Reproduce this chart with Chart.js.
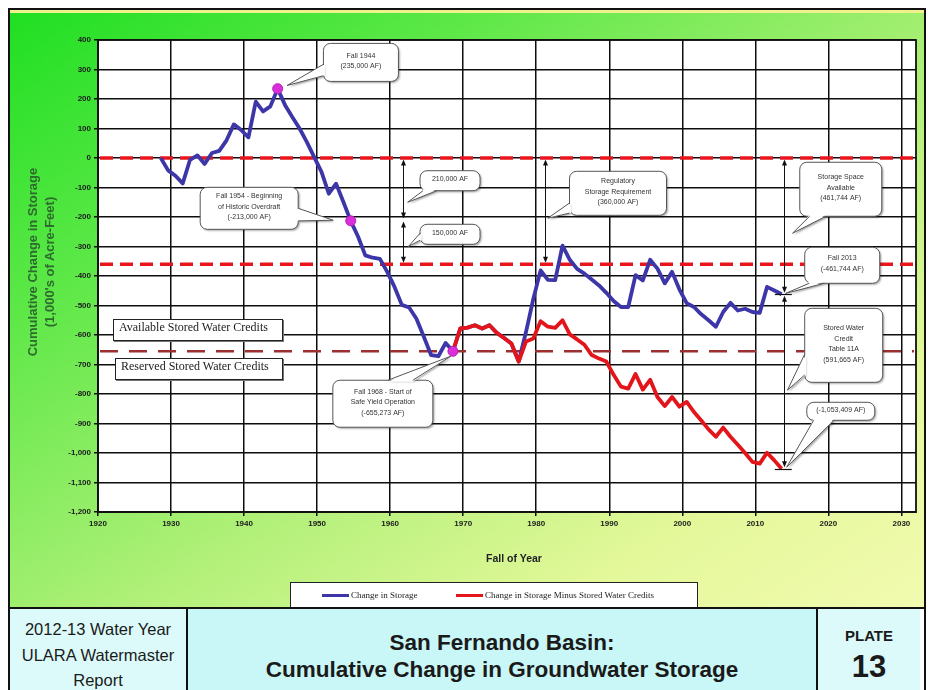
<!DOCTYPE html>
<html lang="en">
<head>
<meta charset="UTF-8">
<title>San Fernando Basin: Cumulative Change in Groundwater Storage</title>
<script src="https://cdn.jsdelivr.net/npm/chart.js"></script>
<style>
  html, body { margin: 0; padding: 0; background: #fff; }
  body { width: 928px; height: 690px; position: relative; overflow: hidden; font-family: Arial, "Liberation Sans", sans-serif; }
  #frame {
    position: absolute; left: 8px; top: 8px; width: 914px; height: 599px;
    border: 2px solid #111; border-bottom: none;
    background: linear-gradient(to bottom right, #1fdf22 0%, #5ee848 26%, #b0f078 56%, #e4f89a 80%, #f2fbb0 100%);
    box-shadow: inset 0 3px 0 #eef28c;
  }
  #chart { position: absolute; left: 0; top: 0; }
  .ytitle {
    position: absolute; width: 280px; height: 16px; line-height: 16px; text-align: center;
    font: bold 13px Arial, sans-serif; color: #2f6a2f; transform: rotate(-90deg);
  }
  #xtitle { position: absolute; left: 414px; top: 551px; width: 200px; text-align: center; font: bold 10.5px Arial, sans-serif; color: #222; line-height: 14px; }
  #legend { position: absolute; left: 290px; top: 582px; width: 406px; height: 24px; border: 1px solid #222; background: #fff; }
  #legend .key { position: absolute; top: 11px; height: 3px; width: 27px; }
  #legend .lbl { position: absolute; top: 6px; font: 9px "Liberation Serif", "Times New Roman", serif; color: #222; line-height: 12px; white-space: nowrap; }
  .credit {
    position: absolute; height: 22px; line-height: 23px; padding-left: 5px; box-sizing: border-box;
    border: 1px solid #222; background: #fff; box-shadow: 1px 1px 0 #777;
    font: 12px "Liberation Serif", "Times New Roman", serif; color: #222; white-space: nowrap;
  }
  #plate { position: absolute; left: 8px; top: 607px; width: 914px; height: 81px; border: 2px solid #111; border-bottom: none; display: flex; }
  #plate .cell { position: relative; height: 81px; }
  #plate .side { background: #dcfafa; }
  #plate .mid { background: #c9f6f6; border-left: 2px solid #111; border-right: 2px solid #111; }
  .report { width: 176px; padding-top: 8px; box-sizing: border-box; text-align: center; font-size: 16.5px; line-height: 25.5px; color: #1a1a1a; }
  .plateTitle { width: 632px; padding-top: 19.5px; box-sizing: border-box; text-align: center; font-weight: bold; font-size: 22.5px; line-height: 27px; color: #1a1a1a; }
  .plateNo { width: 102px; text-align: center; color: #1a1a1a; font-weight: bold; }
  .plateNo .word { position: absolute; left: 0; right: 0; top: 18px; font-size: 15px; line-height: 18px; }
  .plateNo .num { position: absolute; left: 0; right: 0; top: 40px; font-size: 31px; line-height: 36px; }
</style>
</head>
<body>
  <div id="frame"></div>
  <canvas id="chart" width="928" height="690"></canvas>

  <div class="ytitle" style="left:-107px; top:254px;">Cumulative Change in Storage</div>
  <div class="ytitle" style="left:-90px; top:254px;">(1,000's of Acre-Feet)</div>
  <div id="xtitle">Fall of Year</div>

  <div class="credit" style="left:113px; top:319px; width:170px;">Available Stored Water Credits</div>
  <div class="credit" style="left:115px; top:358px; width:168px;">Reserved Stored Water Credits</div>

  <div id="legend">
    <span class="key" style="left:31px; background:#3c36a8"></span>
    <span class="lbl" style="left:60px">Change in Storage</span>
    <span class="key" style="left:165px; background:#e3141a"></span>
    <span class="lbl" style="left:194px">Change in Storage Minus Stored Water Credits</span>
  </div>

  <div id="plate">
    <div class="cell side report">2012-13 Water Year<br>ULARA Watermaster<br>Report</div>
    <div class="cell mid plateTitle">San Fernando Basin:<br>Cumulative Change in Groundwater Storage</div>
    <div class="cell side plateNo"><span class="word">PLATE</span><span class="num">13</span></div>
  </div>

<script>
  // Fall readings, thousands of acre-feet
  const years = [1928, 1929, 1930, 1931, 1932, 1933, 1934, 1935, 1936, 1937,
    1938, 1939, 1940, 1941, 1942, 1943, 1944, 1945, 1946, 1947,
    1948, 1949, 1950, 1951, 1952, 1953, 1954, 1955, 1956, 1957,
    1958, 1959, 1960, 1961, 1962, 1963, 1964, 1965, 1966, 1967,
    1968, 1969, 1970, 1971, 1972, 1973, 1974, 1975, 1976, 1977,
    1978, 1979, 1980, 1981, 1982, 1983, 1984, 1985, 1986, 1987,
    1988, 1989, 1990, 1991, 1992, 1993, 1994, 1995, 1996, 1997,
    1998, 1999, 2000, 2001, 2002, 2003, 2004, 2005, 2006, 2007,
    2008, 2009, 2010, 2011, 2012, 2013];

  const storageChange = [0, -42, -60, -86, -6, 9, -20, 17, 24, 60,
    114, 95, 70, 191, 158, 175, 235, 180, 139, 100,
    54, 3, -47, -121, -87, -149, -213, -266, -330, -338,
    -342, -386, -437, -498, -507, -545, -605, -668, -672, -627,
    -655.273, -578, -575, -567, -578, -567, -593, -610, -629, -690,
    -590, -478, -381, -413, -414, -297, -345, -376, -392, -412,
    -432, -457, -485, -505, -505, -397, -415, -345, -375, -425,
    -386, -445, -492, -505, -530, -550, -572, -522, -491, -517,
    -511, -522, -525, -437, -449, -461.744];

  // Change in storage minus stored water credits, from the start of safe yield operation
  const netFromYear = 1968;
  const storageNet = [-655.273, -578, -575, -567, -578, -567, -593, -610, -629, -690,
    -622, -612, -553, -572, -576, -550, -598, -615, -633, -668,
    -680, -690, -735, -775, -782, -732, -785, -752, -810, -841,
    -810, -843, -827, -861, -890, -920, -945, -914, -945, -972,
    -1000, -1030, -1036, -999, -1025, -1053.409];

  const eventYears = [1944, 1954, 1968];

  const decadeTicks = [1920, 1930, 1940, 1950, 1960, 1970, 1980, 1990, 2000, 2010, 2020, 2030];
  const storageTicks = [-1200, -1100, -1000, -900, -800, -700, -600, -500, -400, -300, -200, -100, 0, 100, 200, 300, 400];

  const zeroLevel = 0;
  const regulatoryLevel = -360;
  const overdraftLevel = -210;
  const safeYieldLevel = -655.273;

  const BLUE = '#3c36a8';
  const RED = '#e3141a';

  // readings are taken in the fall, so they sit late in each calendar year
  const fallOffset = 0.6;
  const netYears = years.slice(years.indexOf(netFromYear));
  const toPoints = (ys, vals) => vals.map((v, i) => ({ x: ys[i] + fallOffset, y: v }));
  const eventPoints = eventYears.map(yr => ({ x: yr + fallOffset, y: storageChange[years.indexOf(yr)] }));
  const lastYear = years[years.length - 1];
  const lastStorage = storageChange[storageChange.length - 1];
  const lastNet = storageNet[storageNet.length - 1];

  const levels = [
    { v: zeroLevel, color: '#e8161c', width: 3.5, dash: [13, 7] },
    { v: regulatoryLevel, color: '#e8161c', width: 3.5, dash: [13, 7] },
    { v: safeYieldLevel, color: '#9c2f2f', width: 2.5, dash: [18, 11] }
  ];

  // double headed measuring arrows: [year, from, to]
  const spans = [
    [1961.7, zeroLevel, overdraftLevel],
    [1961.7, overdraftLevel, regulatoryLevel],
    [1981.15, zeroLevel, regulatoryLevel],
    [lastYear + 0.9, zeroLevel, lastStorage],
    [lastYear + 0.9, lastStorage, lastNet]
  ];

  // callout boxes, anchored in year / storage units
  const callouts = [
    { at: [1956.0, 324], w: 75, h: 38, text: ['Fall 1944', '(235,000 AF)'], side: 'left', span: [0.55, 0.85], tip: [1945.9, 246] },
    { at: [1940.7, -170.5], w: 98, h: 42, text: ['Fall 1954 - Beginning', 'of Historic Overdraft', '(-213,000 AF)'], side: 'right', span: [0.5, 0.8], tip: [1952.2, -211] },
    { at: [1968.2, -77], w: 60, h: 20, text: ['210,000 AF'], side: 'bottom', span: [0.05, 0.28], tip: [1962.4, -150] },
    { at: [1968.2, -258.6], w: 60, h: 20, text: ['150,000 AF'], side: 'left', span: [0.45, 0.8], tip: [1962.5, -300] },
    { at: [1991.2, -119.7], w: 97, h: 44, text: ['Regulatory', 'Storage Requirement', '(360,000 AF)'], side: 'left', span: [0.72, 0.95], tip: [1981.6, -204] },
    { at: [2021.7, -106], w: 82, h: 54, text: ['Storage Space', 'Available', '(461,744 AF)'], side: 'bottom', span: [0.12, 0.32], tip: [2015.1, -255] },
    { at: [2021.9, -363.7], w: 75, h: 36, text: ['Fall 2013', '(-461,744 AF)'], side: 'bottom', span: [0.06, 0.26], tip: [2014.15, -459] },
    { at: [2022.1, -635], w: 78, h: 74, text: ['Stored Water', 'Credit', 'Table 11A', '(591,665 AF)'], side: 'left', span: [0.62, 0.9], tip: [2014.4, -787] },
    { at: [2021.7, -858.6], w: 68, h: 18, text: ['(-1,053,409 AF)'], side: 'bottom', span: [0.1, 0.4], tip: [2014.3, -1048] },
    { at: [1959.0, -833], w: 100, h: 47, text: ['Fall 1968 - Start of', 'Safe Yield Operation', '(-655,273 AF)'], side: 'top', span: [0.55, 0.8], tip: [1968.3, -672] }
  ];

  function arrowHead(ctx, x, y, dir) {
    ctx.beginPath();
    ctx.moveTo(x, y);
    ctx.lineTo(x - 2.5, y - dir * 6);
    ctx.lineTo(x + 2.5, y - dir * 6);
    ctx.closePath();
    ctx.fill();
  }

  function drawCallout(ctx, xs, ys, c) {
    const cx = xs.getPixelForValue(c.at[0]);
    const cy = ys.getPixelForValue(c.at[1]);
    const x0 = cx - c.w / 2, y0 = cy - c.h / 2;
    const tx = xs.getPixelForValue(c.tip[0]);
    const ty = ys.getPixelForValue(c.tip[1]);
    let a, b, n;
    if (c.side === 'left') { a = [x0, y0 + c.h * c.span[0]]; b = [x0, y0 + c.h * c.span[1]]; n = [1, 0]; }
    else if (c.side === 'right') { a = [x0 + c.w, y0 + c.h * c.span[0]]; b = [x0 + c.w, y0 + c.h * c.span[1]]; n = [-1, 0]; }
    else if (c.side === 'top') { a = [x0 + c.w * c.span[0], y0]; b = [x0 + c.w * c.span[1], y0]; n = [0, 1]; }
    else { a = [x0 + c.w * c.span[0], y0 + c.h]; b = [x0 + c.w * c.span[1], y0 + c.h]; n = [0, -1]; }

    ctx.save();
    ctx.fillStyle = '#fff';
    ctx.shadowColor = 'rgba(0,0,0,0.35)';
    ctx.shadowOffsetX = 1.5; ctx.shadowOffsetY = 1.5; ctx.shadowBlur = 2;
    ctx.beginPath();
    ctx.roundRect(x0, y0, c.w, c.h, 7);
    ctx.fill();
    ctx.beginPath();
    ctx.moveTo(a[0], a[1]); ctx.lineTo(tx, ty); ctx.lineTo(b[0], b[1]); ctx.closePath();
    ctx.fill();
    ctx.shadowColor = 'transparent';

    ctx.strokeStyle = '#555';
    ctx.lineWidth = 1;
    ctx.beginPath();
    ctx.roundRect(x0, y0, c.w, c.h, 7);
    ctx.stroke();
    // open the box edge where the pointer joins
    ctx.beginPath();
    ctx.moveTo(a[0] + n[0] * 1.5, a[1] + n[1] * 1.5);
    ctx.lineTo(tx, ty);
    ctx.lineTo(b[0] + n[0] * 1.5, b[1] + n[1] * 1.5);
    ctx.closePath();
    ctx.fill();
    ctx.beginPath();
    ctx.moveTo(a[0], a[1]); ctx.lineTo(tx, ty); ctx.lineTo(b[0], b[1]);
    ctx.stroke();

    ctx.fillStyle = '#333';
    ctx.font = '7px Arial, sans-serif';
    ctx.textAlign = 'center';
    ctx.textBaseline = 'middle';
    const lh = 10.5;
    c.text.forEach((t, i) => {
      ctx.fillText(t, cx, cy - 1.5 + (i - (c.text.length - 1) / 2) * lh);
    });
    ctx.restore();
  }

  const plateArt = {
    id: 'plateArt',
    beforeDraw(chart) {
      const { ctx, chartArea: a } = chart;
      ctx.save();
      ctx.fillStyle = '#fff';
      ctx.fillRect(a.left, a.top, a.right - a.left, a.bottom - a.top);
      ctx.restore();
    },
    beforeDatasetsDraw(chart) {
      const { ctx, chartArea: a, scales: { y } } = chart;
      ctx.save();
      levels.forEach(l => {
        const py = y.getPixelForValue(l.v);
        ctx.strokeStyle = l.color;
        ctx.lineWidth = l.width;
        ctx.setLineDash(l.dash);
        ctx.beginPath();
        ctx.moveTo(a.left + 2, py);
        ctx.lineTo(a.right - 2, py);
        ctx.stroke();
      });
      ctx.restore();
    },
    afterDatasetsDraw(chart) {
      const { ctx, chartArea: a, scales: { x, y } } = chart;
      ctx.save();
      ctx.strokeStyle = '#111';
      ctx.lineWidth = 1.8;
      ctx.strokeRect(a.left, a.top, a.right - a.left, a.bottom - a.top);

      ctx.strokeStyle = '#111';
      ctx.fillStyle = '#111';
      ctx.lineWidth = 1;
      spans.forEach(([yr, from, to]) => {
        const px = Math.round(x.getPixelForValue(yr)) + 0.5;
        const p1 = y.getPixelForValue(from) + 1.5;
        const p2 = y.getPixelForValue(to) - 1.5;
        ctx.beginPath();
        ctx.moveTo(px, p1 + 5);
        ctx.lineTo(px, p2 - 5);
        ctx.stroke();
        arrowHead(ctx, px, p1, -1);
        arrowHead(ctx, px, p2, 1);
      });
      [lastStorage, lastNet].forEach(v => {
        const px = x.getPixelForValue(lastYear + 0.9);
        const py = Math.round(y.getPixelForValue(v)) + 0.5;
        ctx.lineWidth = 1.2;
        ctx.beginPath();
        ctx.moveTo(px - 9, py);
        ctx.lineTo(px + 8, py);
        ctx.stroke();
      });
      ctx.restore();

      callouts.forEach(c => drawCallout(ctx, x, y, c));
    }
  };

  const tickFont = { family: 'Arial', size: 8, weight: 'bold' };

  new Chart(document.getElementById('chart'), {
    type: 'line',
    data: {
      datasets: [
        {
          label: 'Key dates',
          data: eventPoints,
          showLine: false,
          pointRadius: 5,
          pointBackgroundColor: '#d92ed9',
          pointBorderColor: '#b623b6',
          pointBorderWidth: 1
        },
        {
          label: 'Change in Storage Minus Stored Water Credits',
          data: toPoints(netYears, storageNet),
          borderColor: RED,
          borderWidth: 3.8,
          pointRadius: 0,
          tension: 0,
          borderJoinStyle: 'round'
        },
        {
          label: 'Change in Storage',
          data: toPoints(years, storageChange),
          borderColor: BLUE,
          borderWidth: 3.8,
          pointRadius: 0,
          tension: 0,
          borderJoinStyle: 'round'
        }
      ]
    },
    options: {
      responsive: false,
      animation: false,
      devicePixelRatio: 1,
      layout: { padding: { left: 0, top: 40, right: 12, bottom: 156 } },
      plugins: { legend: { display: false }, tooltip: { enabled: false } },
      scales: {
        x: {
          type: 'linear',
          min: 1920,
          max: 2032,
          afterBuildTicks: axis => { axis.ticks = decadeTicks.map(v => ({ value: v })); },
          afterFit: axis => { axis.height = 22; },
          ticks: { callback: v => String(v), font: tickFont, color: '#1b1b1b', padding: 3, maxRotation: 0, autoSkip: false },
          grid: { color: '#0d0d0d', lineWidth: 1.5, tickLength: 4 },
          border: { color: '#111', width: 1.8 }
        },
        y: {
          type: 'linear',
          min: -1200,
          max: 400,
          afterBuildTicks: axis => { axis.ticks = storageTicks.map(v => ({ value: v })); },
          afterFit: axis => { axis.width = 98; },
          ticks: { callback: v => v.toLocaleString('en-US'), font: tickFont, color: '#1b1b1b', padding: 3, autoSkip: false },
          grid: { color: '#0d0d0d', lineWidth: 1.5, tickLength: 4 },
          border: { color: '#111', width: 1.8 }
        }
      }
    },
    plugins: [plateArt]
  });
</script>
</body>
</html>
